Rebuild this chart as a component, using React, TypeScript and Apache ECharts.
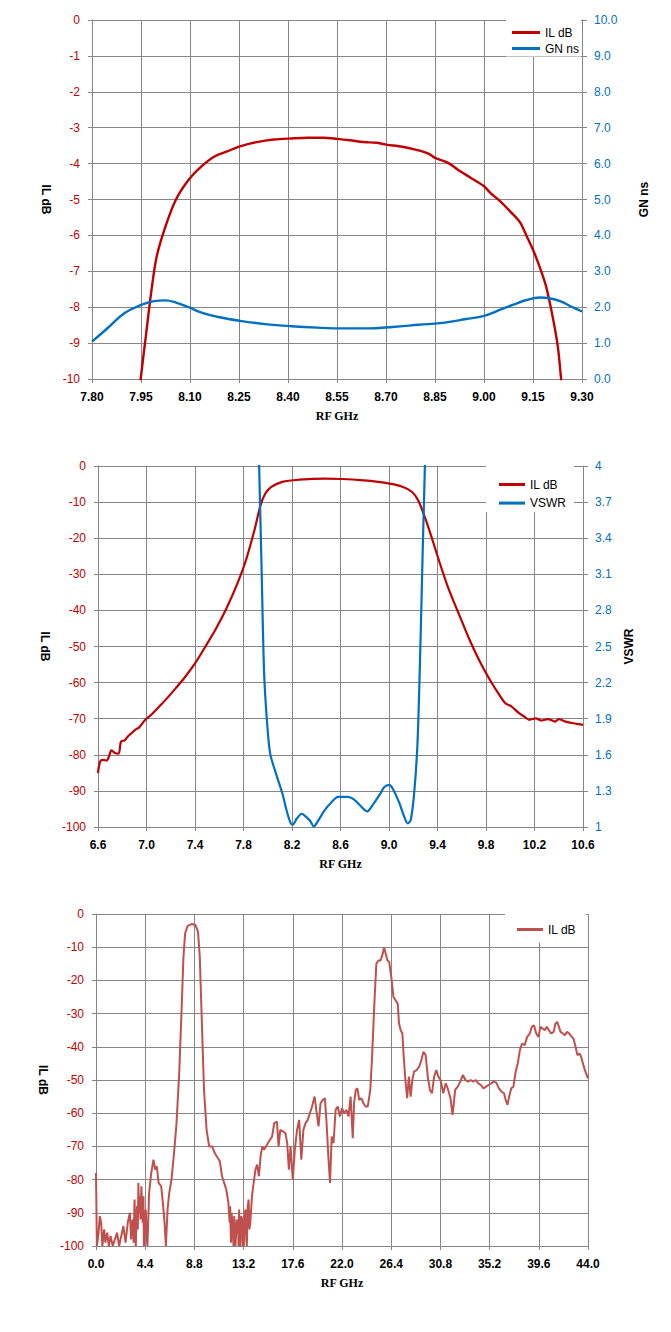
import React, { useEffect, useRef } from 'react';
import * as echarts from 'echarts';

// ---------- Chart 1 data ----------
const X1_LABELS = ['7.80', '7.95', '8.10', '8.25', '8.40', '8.55', '8.70', '8.85', '9.00', '9.15', '9.30'];
const Y1R_LABELS = ['0.0', '1.0', '2.0', '3.0', '4.0', '5.0', '6.0', '7.0', '8.0', '9.0', '10.0'];
const IL1_F = [7.945, 7.949, 7.966, 7.981, 7.998, 8.025, 8.057, 8.096, 8.136, 8.175, 8.214, 8.253, 8.305, 8.357, 8.41, 8.46, 8.51, 8.55, 8.59, 8.63, 8.67, 8.70, 8.75, 8.79, 8.83, 8.85, 8.89, 8.92, 8.96, 9.00, 9.02, 9.05, 9.08, 9.11, 9.13, 9.15, 9.17, 9.19, 9.21, 9.226, 9.236, 9.24];
const IL1 = [-10.4, -10, -8.72, -7.6, -6.59, -5.75, -5.0, -4.45, -4.07, -3.80, -3.66, -3.52, -3.40, -3.33, -3.30, -3.28, -3.28, -3.31, -3.35, -3.40, -3.42, -3.47, -3.53, -3.61, -3.72, -3.84, -3.98, -4.17, -4.40, -4.63, -4.82, -5.05, -5.33, -5.63, -6.01, -6.40, -6.87, -7.42, -8.26, -9.10, -10, -10.4];
const GN_F = [7.80, 7.848, 7.90, 7.953, 7.99, 8.025, 8.057, 8.096, 8.135, 8.19, 8.253, 8.33, 8.41, 8.49, 8.566, 8.645, 8.72, 8.80, 8.88, 8.945, 9.00, 9.05, 9.09, 9.13, 9.17, 9.20, 9.235, 9.267, 9.30];
const GN = [1.04, 1.42, 1.84, 2.07, 2.17, 2.19, 2.13, 2.0, 1.85, 1.72, 1.62, 1.53, 1.47, 1.43, 1.41, 1.41, 1.45, 1.51, 1.57, 1.67, 1.76, 1.93, 2.07, 2.20, 2.27, 2.25, 2.16, 2.02, 1.88];

// ---------- Chart 2 data ----------
const X2_LABELS = ['6.6', '7.0', '7.4', '7.8', '8.2', '8.6', '9.0', '9.4', '9.8', '10.2', '10.6'];
const Y2R_LABELS = ['1', '1.3', '1.6', '1.9', '2.2', '2.5', '2.8', '3.1', '3.4', '3.7', '4'];
const IL2_F = [6.6, 6.618, 6.642, 6.67, 6.695, 6.71, 6.74, 6.77, 6.79, 6.82, 6.846, 6.87, 6.906, 6.94, 6.99, 7.046, 7.1, 7.17, 7.24, 7.31, 7.40, 7.486, 7.574, 7.66, 7.75, 7.82, 7.89, 7.94, 7.98, 8.03, 8.12, 8.26, 8.47, 8.61, 8.79, 8.96, 9.10, 9.19, 9.24, 9.295, 9.35, 9.42, 9.49, 9.58, 9.665, 9.75, 9.84, 9.91, 9.96, 10.01, 10.07, 10.12, 10.157, 10.21, 10.26, 10.31, 10.37, 10.40, 10.456, 10.51, 10.56, 10.6];
const IL2 = [-85.1, -81.8, -81.4, -81.6, -80.0, -78.8, -79.5, -79.7, -76.3, -76.0, -74.9, -74.2, -73.1, -72.4, -70.3, -68.7, -66.8, -64.3, -61.6, -58.8, -54.7, -50.0, -45.0, -39.4, -32.5, -26.1, -17.8, -10.9, -7.6, -5.8, -4.4, -3.8, -3.5, -3.6, -4.0, -4.6, -5.6, -7.2, -9.5, -14.1, -19.6, -27.0, -33.9, -41.3, -48.2, -54.2, -59.7, -63.4, -65.7, -66.6, -68.4, -69.5, -70.3, -69.9, -70.5, -70.1, -70.8, -70.1, -70.8, -71.2, -71.5, -71.7];
const VS_F = [7.92, 7.929, 7.95, 7.97, 7.995, 8.02, 8.066, 8.12, 8.16, 8.19, 8.206, 8.24, 8.28, 8.31, 8.35, 8.38, 8.42, 8.47, 8.52, 8.58, 8.63, 8.66, 8.71, 8.77, 8.82, 8.87, 8.93, 8.96, 9.0, 9.03, 9.085, 9.12, 9.155, 9.18, 9.21, 9.236, 9.26, 9.28, 9.296, 9.30];
const VS = [4.4, 4.0, 3.11, 2.28, 1.86, 1.61, 1.45, 1.28, 1.12, 1.03, 1.02, 1.07, 1.11, 1.09, 1.05, 1.005, 1.06, 1.14, 1.20, 1.25, 1.25, 1.25, 1.23, 1.17, 1.13, 1.19, 1.28, 1.33, 1.35, 1.32, 1.20, 1.10, 1.03, 1.06, 1.31, 1.72, 2.55, 3.38, 4.0, 4.3];

// ---------- Chart 3 data ----------
const X3_LABELS = ['0.0', '4.4', '8.8', '13.2', '17.6', '22.0', '26.4', '30.8', '35.2', '39.6', '44.0'];
const F3 = [
  0, 0.08, 0.23, 0.34, 0.46, 0.57, 0.73, 0.84, 1.0, 1.15,
  1.3, 1.5, 1.69, 1.88, 2.07, 2.26, 2.45, 2.64, 2.84, 3.03,
  3.14, 3.22, 3.3, 3.36, 3.45, 3.5, 3.56, 3.62, 3.68, 3.74,
  3.79, 3.85, 3.91, 3.98, 4.06, 4.12, 4.18, 4.24, 4.29, 4.36,
  4.45, 4.52, 4.6, 4.75, 4.94, 5.14, 5.29, 5.44, 5.6, 5.83,
  5.98, 6.13, 6.25, 6.4, 6.55, 6.75, 6.98, 7.2, 7.44, 7.63,
  7.82, 7.97, 8.2, 8.59, 8.89, 9.12, 9.28, 9.47, 9.66, 9.89,
  10.12, 10.39, 10.62, 10.89, 11.08, 11.27, 11.46, 11.65, 11.84, 11.96,
  12.0, 12.07, 12.13, 12.19, 12.25, 12.3, 12.36, 12.42, 12.47, 12.53,
  12.6, 12.69, 12.75, 12.8, 12.86, 12.92, 13.0, 13.07, 13.14, 13.22,
  13.3, 13.38, 13.44, 13.49, 13.57, 13.65, 13.72, 13.8, 13.95, 14.1,
  14.26, 14.41, 14.57, 14.72, 14.87, 15.03, 15.29, 15.56, 15.75, 15.94,
  16.18, 16.33, 16.48, 16.71, 16.94, 17.1, 17.25, 17.4, 17.6, 17.78,
  17.98, 18.17, 18.36, 18.55, 18.74, 18.94, 19.13, 19.32, 19.55, 19.7,
  19.9, 20.08, 20.28, 20.47, 20.62, 20.78, 20.93, 21.08, 21.24, 21.43,
  21.62, 21.81, 22.0, 22.19, 22.39, 22.58, 22.77, 22.96, 23.08, 23.23,
  23.38, 23.54, 23.73, 23.92, 24.11, 24.3, 24.53, 24.69, 24.88, 25.07,
  25.26, 25.45, 25.64, 25.76, 25.91, 26.07, 26.22, 26.41, 26.6, 26.79,
  26.98, 27.1, 27.25, 27.4, 27.52, 27.67, 27.83, 27.98, 28.14, 28.29,
  28.44, 28.67, 28.9, 29.1, 29.28, 29.48, 29.67, 29.86, 30.05, 30.24,
  30.43, 30.62, 30.82, 31.05, 31.28, 31.5, 31.7, 31.89, 32.12, 32.35,
  32.58, 32.81, 33.04, 33.27, 33.5, 33.73, 33.96, 34.19, 34.42, 34.65,
  34.88, 35.11, 35.34, 35.57, 35.8, 36.03, 36.26, 36.49, 36.64, 36.8,
  36.95, 37.14, 37.33, 37.53, 37.72, 37.91, 38.1, 38.33, 38.56, 38.79,
  38.98, 39.17, 39.37, 39.56, 39.75, 39.94, 40.13, 40.32, 40.51, 40.7,
  40.93, 41.09, 41.25, 41.4, 41.55, 41.74, 41.93, 42.13, 42.32, 42.55,
  42.7, 42.89, 43.05, 43.24, 43.39, 43.54, 43.77, 44.0,
];
const IL3 = [
  -78, -100, -96, -91, -93, -100, -95, -99, -96, -100,
  -97, -100, -98, -96, -100, -97, -94, -99, -93, -90,
  -98, -93, -92, -99, -86, -95, -100, -90, -88, -95,
  -81, -90, -85, -92, -82, -88, -93, -85, -100, -92,
  -89, -97, -100, -84, -78, -74, -77, -76, -81, -82,
  -87, -93, -100, -89, -84, -80, -72, -63, -48, -31,
  -13, -5.8, -3.6, -3.0, -3.3, -5.3, -12.8, -32.9, -53, -65,
  -70, -70, -72, -73.5, -74.5, -79, -81, -83, -87, -93,
  -88, -99, -90, -93, -97, -100, -91, -95, -100, -100,
  -92, -93, -100, -89, -97, -100, -91, -92, -100, -100,
  -90, -89, -98, -100, -88, -86, -95, -93, -85, -81,
  -77, -75.5, -79, -73, -70, -71, -69.5, -68, -67, -63,
  -62.5, -70, -65, -65.5, -66, -69, -77, -70, -80, -71,
  -65, -62, -74, -65, -63, -62, -60, -58, -55, -59,
  -64, -57, -56, -55.5, -63, -73, -81, -67, -69, -59,
  -58, -61, -58.5, -60, -59, -61, -55, -67.5, -57, -53,
  -52.5, -56, -55.5, -57, -58, -58, -53, -43, -28, -15,
  -14, -14, -12, -10, -12, -14, -14.5, -19, -25, -26,
  -27, -33, -35, -36, -43, -50, -55.5, -49, -55, -50,
  -47.5, -47, -46, -44, -41.5, -42.5, -49, -53, -54, -49,
  -47, -49, -50, -54, -51, -53, -55.5, -60.5, -53, -52,
  -50.5, -48.5, -50, -50.5, -50, -50.5, -50, -51, -51.5, -52.5,
  -52, -51.5, -51, -50.5, -50.8, -52.5, -53.5, -54, -56, -57.5,
  -55, -52.5, -52, -47.5, -45, -41, -39, -39.5, -37, -36,
  -34, -33.5, -36, -37, -34, -34.5, -35, -34, -35, -36,
  -35.5, -33, -32.5, -34, -35.5, -36, -36.5, -35.5, -36, -37,
  -37.5, -40, -42.5, -42, -43, -45, -47.5, -49.5,
];

// ---------- styles ----------
const GRID = '#868686';
const RED = '#C00000';
const BLUE = '#0070C0';
const RED3 = '#C0504D';
const FONT = '"Liberation Sans", Arial, sans-serif';
const SERIF = '"Liberation Serif", "Times New Roman", serif';

const pairs = (xs: number[], ys: number[]) => {
  const n = Math.min(xs.length, ys.length);
  const out: number[][] = [];
  for (let i = 0; i < n; i++) out.push([xs[i], ys[i]]);
  return out;
};

const axisLine = { show: true, onZero: false, lineStyle: { color: GRID, width: 1 } };
const tick = (len: number) => ({ show: true, inside: false, length: len, lineStyle: { color: GRID, width: 1 } });
const split = { show: true, lineStyle: { color: GRID, width: 1 } };
const nameStyle = { fontFamily: FONT, fontWeight: 'bold', fontSize: 12, color: '#000' };

const dataX = (min: number, max: number) => ({ type: 'value', position: 'bottom', min, max, show: false, axisLine: { onZero: false } });
const labelX = (labels: string[]) => ({
  type: 'value', position: 'bottom', min: 0, max: 10, interval: 1,
  axisLine, axisTick: tick(4), splitLine: split,
  axisLabel: {
    margin: 12, color: '#000', fontFamily: FONT, fontSize: 12, fontWeight: 'bold',
    showMinLabel: true, showMaxLabel: true,
    formatter: (v: number) => labels[Math.round(v)] ?? '',
  },
  name: 'RF GHz', nameLocation: 'middle', nameGap: 31,
  nameTextStyle: { fontFamily: SERIF, fontWeight: 'bold', fontSize: 12, color: '#000' },
});
const leftY = (min: number, max: number, interval: number, nameGap: number) => ({
  type: 'value', position: 'left', min, max, interval,
  axisLine, axisTick: tick(4), splitLine: split,
  axisLabel: { margin: 12, color: RED, fontFamily: FONT, fontSize: 12, showMinLabel: true, showMaxLabel: true },
  name: 'IL dB', nameLocation: 'middle', nameRotate: -90, nameGap, nameTextStyle: nameStyle,
});
const rightLabelY = (labels: string[], name: string, nameGap: number) => ({
  type: 'value', position: 'right', min: 0, max: 10, interval: 1,
  axisLine, axisTick: tick(5), splitLine: { show: false },
  axisLabel: {
    margin: 12, color: BLUE, fontFamily: FONT, fontSize: 12, showMinLabel: true, showMaxLabel: true,
    formatter: (v: number) => labels[Math.round(v)] ?? '',
  },
  name, nameLocation: 'middle', nameRotate: 90, nameGap, nameTextStyle: nameStyle,
});
const legend = (data: string[], right: number, top: number, padding: number[], itemWidth: number, itemGap: number) => ({
  data, right, top, padding, itemWidth, itemHeight: 3, itemGap, orient: 'vertical', icon: 'rect',
  backgroundColor: '#ffffff', selectedMode: false,
  textStyle: { fontFamily: FONT, fontSize: 12, color: '#000' },
});
const lineSeries = (name: string, data: number[][], color: string, width: number, xi: number, yi: number, smooth: number | boolean) => ({
  name, type: 'line', data, xAxisIndex: xi, yAxisIndex: yi, symbol: 'none', showSymbol: false,
  smooth, clip: true, lineStyle: { color, width }, itemStyle: { color }, emphasis: { disabled: true },
});

const option1 = {
  animation: false,
  grid: { left: 92, top: 20, width: 490, height: 359 },
  legend: legend(['IL dB', 'GN ns'], 90, 20, [6.5, 2, 2, 6], 28, 4),
  xAxis: [dataX(7.8, 9.3), labelX(X1_LABELS)],
  yAxis: [
    leftY(-10, 0, 1, 35),
    rightLabelY(Y1R_LABELS, 'GN ns', 56),
  ],
  series: [
    lineSeries('IL dB', pairs(IL1_F, IL1), RED, 2.4, 0, 0, 0.3),
    lineSeries('GN ns', pairs(GN_F, GN), BLUE, 2.4, 0, 1, 0.4),
  ],
};

const option2 = {
  animation: false,
  grid: { left: 98, top: 26, width: 485, height: 361 },
  legend: legend(['IL dB', 'VSWR'], 97, 26, [12.5, 8, 3, 13], 26, 6.6),
  xAxis: [dataX(6.6, 10.6), labelX(X2_LABELS)],
  yAxis: [
    leftY(-100, 0, 10, 42),
    { type: 'value', position: 'right', min: 1, max: 4, show: false },
    rightLabelY(Y2R_LABELS, 'VSWR', 31),
  ],
  series: [
    lineSeries('IL dB', pairs(IL2_F, IL2), RED, 2.2, 0, 0, 0.3),
    lineSeries('VSWR', pairs(VS_F, VS), BLUE, 2.2, 0, 1, 0.3),
  ],
};

const option3 = {
  animation: false,
  grid: { left: 96, top: 24, width: 492, height: 332 },
  legend: legend(['IL dB'], 85, 24, [9.5, 10, 7, 12], 26, 4),
  xAxis: [dataX(0, 44), labelX(X3_LABELS)],
  yAxis: [leftY(-100, 0, 10, 41)],
  series: [lineSeries('IL dB', pairs(F3, IL3), RED3, 2, 0, 0, false)],
};

function Chart({ option, top, height }: { option: any; top: number; height: number }) {
  const ref = useRef<HTMLDivElement>(null);
  useEffect(() => {
    if (!ref.current) return;
    const chart = echarts.init(ref.current, undefined, { renderer: 'svg' });
    chart.setOption(option);
    return () => chart.dispose();
  }, [option]);
  return <div ref={ref} style={{ position: 'absolute', left: 0, top, width: 671, height }} />;
}

export default function App() {
  return (
    <div style={{ position: 'absolute', left: 0, top: 0, width: 671, height: 1332, background: '#fff' }}>
      <Chart option={option1} top={0} height={440} />
      <Chart option={option2} top={440} height={450} />
      <Chart option={option3} top={890} height={442} />
    </div>
  );
}
